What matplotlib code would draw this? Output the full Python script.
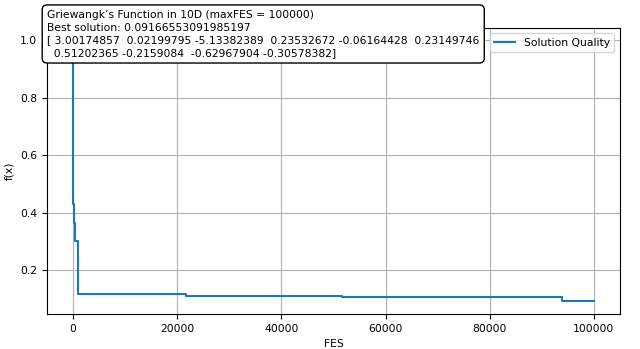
import matplotlib
matplotlib.use("Agg")
import matplotlib.pyplot as plt

fes = [0, 20, 40, 60, 80, 100, 150, 200, 300, 1000, 21700, 51700, 93900, 100000]
fx = [0.998, 0.80, 0.62, 0.50, 0.43, 0.40, 0.365, 0.365, 0.30, 0.118, 0.111, 0.1075, 0.0917, 0.0917]

title_lines = [
    "Griewangk\u2019s Function in 10D (maxFES = 100000)",
    "Best solution: 0.09166553091985197",
    "[ 3.00174857  0.02199795 -5.13382389  0.23532672 -0.06164428  0.23149746",
    "  0.51202365 -0.2159084  -0.62967904 -0.30578382]",
]

fs = 7.75
fig = plt.figure(figsize=(6.4, 3.49), dpi=100)
ax = fig.add_axes([0.0735, 0.1, 0.895, 0.82])
ax.plot(fes, fx, drawstyle="steps-post", color="#1f77b4", label="Solution Quality")
ax.set_xlabel("FES", fontsize=fs)
ax.set_ylabel("f(x)", fontsize=fs)
ax.tick_params(labelsize=fs)
ax.grid(True)
ax.legend(loc="upper right", fontsize=fs)
fig.text(0.0735, 0.972, "\n".join(title_lines), va="top", ha="left", fontsize=fs,
         linespacing=1.35,
         bbox=dict(boxstyle="round,pad=0.45", fc="white", ec="black"))
fig.savefig("out.png", dpi=100)
